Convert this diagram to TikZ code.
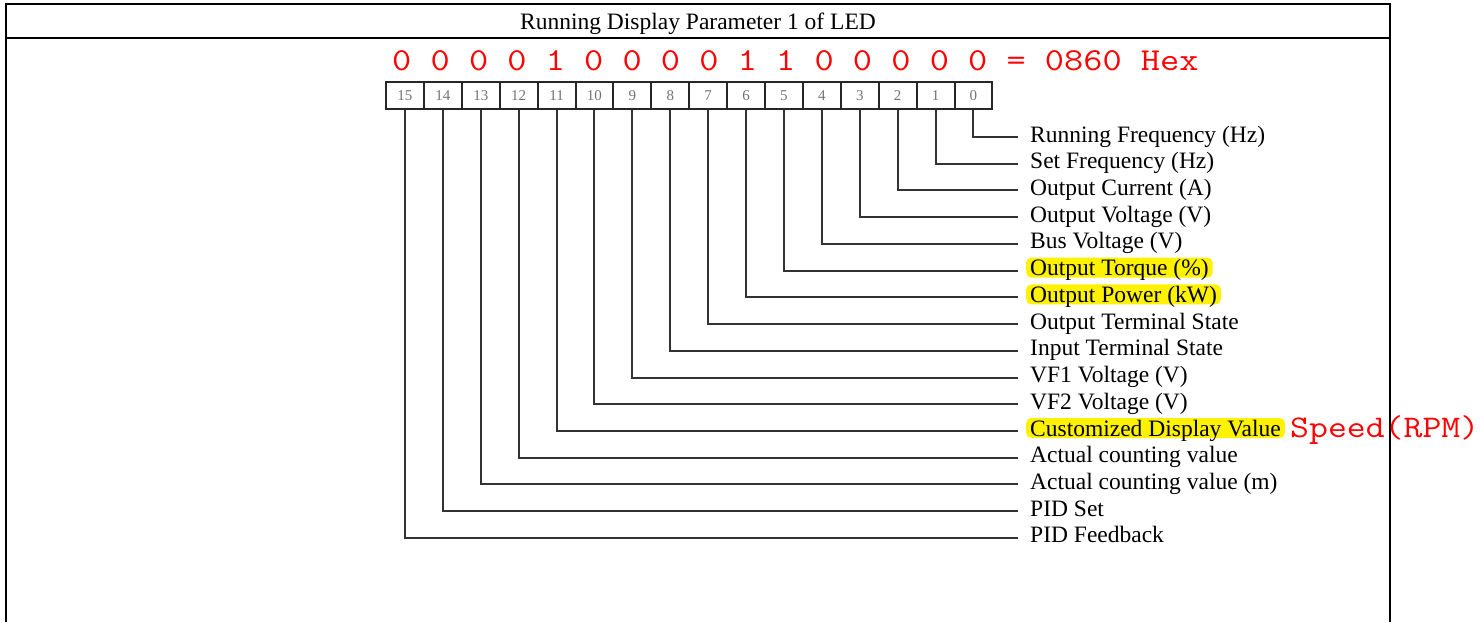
\documentclass[tikz,border=0pt]{standalone}
\usepackage{fontspec}
\setmainfont{Liberation Serif}
\newfontfamily\monofont{Latin Modern Mono}[FakeStretch=1.165]
\begin{document}
\begin{tikzpicture}[x=1pt,y=-1pt,
  frame/.style={line width=2.6pt,black},
  bitbox/.style={draw=black!85,line width=2pt,minimum width=37.9pt,minimum height=27pt,inner sep=0pt,
     font=\fontsize{15}{15}\selectfont,text=black!55},
  lab/.style={anchor=base west,inner xsep=4pt,inner ysep=0pt,text height=18pt,text depth=2pt,
     font=\fontsize{23.5}{24}\selectfont},
  hl/.style={lab,fill=yellow,rounded corners=5pt},
  conn/.style={draw=black!80,line width=2pt,shorten >=8pt},
  red/.style={text=red,font=\monofont\fontsize{32}{32}\selectfont,inner sep=0pt}]
\useasboundingbox (0,0) rectangle (1481,622);
% frame
\draw[frame] (6,622) -- (6,4) -- (1390,4) -- (1390,622);
\draw[frame] (6,38) -- (1390,38);
\node[font=\fontsize{23.5}{24}\selectfont,anchor=base] (title) at (698,29) {Running Display Parameter 1 of LED};
% red binary value
\node[red,anchor=base west] (bits) at (392,70) {0 0 0 0 1 0 0 0 0 1 1 0 0 0 0 0 = 0860 Hex};
% bit boxes
\foreach \b in {0,...,15}
  \node[bitbox] (b\b) at ({386+(15.5-\b)*37.9},95.5) {\b};
% labels
\node[lab] (l0)  at (1026,{134+26.73*0+8})  {Running Frequency (Hz)};
\node[lab] (l1)  at (1026,{134+26.73*1+8})  {Set Frequency (Hz)};
\node[lab] (l2)  at (1026,{134+26.73*2+8})  {Output Current (A)};
\node[lab] (l3)  at (1026,{134+26.73*3+8})  {Output Voltage (V)};
\node[lab] (l4)  at (1026,{134+26.73*4+8})  {Bus Voltage (V)};
\node[hl]  (l5)  at (1026,{134+26.73*5+8})  {Output Torque (\%)};
\node[hl]  (l6)  at (1026,{134+26.73*6+8})  {Output Power (kW)};
\node[lab] (l7)  at (1026,{134+26.73*7+8})  {Output Terminal State};
\node[lab] (l8)  at (1026,{134+26.73*8+8})  {Input Terminal State};
\node[lab] (l9)  at (1026,{134+26.73*9+8})  {VF1 Voltage (V)};
\node[lab] (l10) at (1026,{134+26.73*10+8}) {VF2 Voltage (V)};
\node[hl]  (l11) at (1026,{134+26.73*11+8}) {Customized Display Value};
\node[lab] (l12) at (1026,{134+26.73*12+8}) {Actual counting value};
\node[lab] (l13) at (1026,{134+26.73*13+8}) {Actual counting value (m)};
\node[lab] (l14) at (1026,{134+26.73*14+8}) {PID Set};
\node[lab] (l15) at (1026,{134+26.73*15+8}) {PID Feedback};
\node[red,anchor=base west,font=\monofont\fontsize{31.5}{32}\selectfont] (speed) at (1290,437) {Speed(RPM)};
% connectors
\foreach \b in {0,...,15}
  \draw[conn] (b\b.south) |- ([yshift=-3pt]l\b.west);
\end{tikzpicture}
\end{document}
